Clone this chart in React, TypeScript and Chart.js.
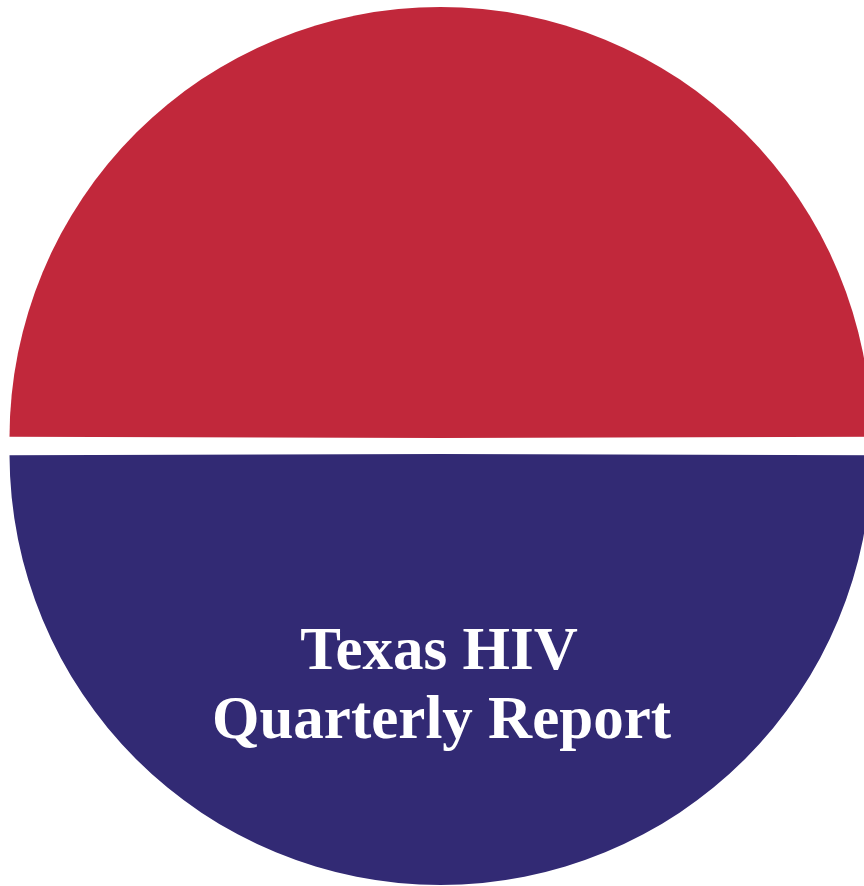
import { useEffect, useRef } from "react";
import { Chart, registerables } from "chart.js";

Chart.register(...registerables);

const halves = ["Upper half", "Lower half"];
const shares = [50, 50];
const halfColors = ["#C1283B", "#322A74"];
const titleLines = ["Texas HIV", "Quarterly Report"];

export default function App() {
  const ref = useRef<HTMLCanvasElement>(null);

  useEffect(() => {
    const chart = new Chart(ref.current!, {
      type: "pie",
      data: {
        labels: halves,
        datasets: [
          {
            data: shares,
            backgroundColor: halfColors,
            borderWidth: 0,
            offset: 32,
            hoverOffset: 0,
          },
        ],
      },
      options: {
        responsive: false,
        animation: false,
        rotation: -90,
        radius: 423,
        layout: { padding: 0 },
        events: [],
        plugins: {
          legend: { display: false },
          tooltip: { enabled: false },
        },
      },
    });
    return () => chart.destroy();
  }, []);

  const lineStyle = (top: number, size: number, shift: number): any => ({
    position: "absolute",
    left: shift,
    top,
    width: 864,
    textAlign: "center",
    fontFamily: "'Liberation Serif', 'Times New Roman', serif",
    fontWeight: "bold",
    fontSize: size,
    lineHeight: `${size}px`,
    color: "#ffffff",
    whiteSpace: "nowrap",
  });

  return (
    <div
      style={{
        position: "absolute",
        left: 0,
        top: 0,
        width: 864,
        height: 886,
        overflow: "hidden",
        background: "#ffffff",
      }}
    >
      <canvas
        ref={ref}
        width={881}
        height={892}
        style={{ position: "absolute", left: 0, top: 0, width: 881, height: 892 }}
      />
      <div style={lineStyle(618, 61, 7)}>{titleLines[0]}</div>
      <div style={lineStyle(687, 61, 9.5)}>{titleLines[1]}</div>
    </div>
  );
}
